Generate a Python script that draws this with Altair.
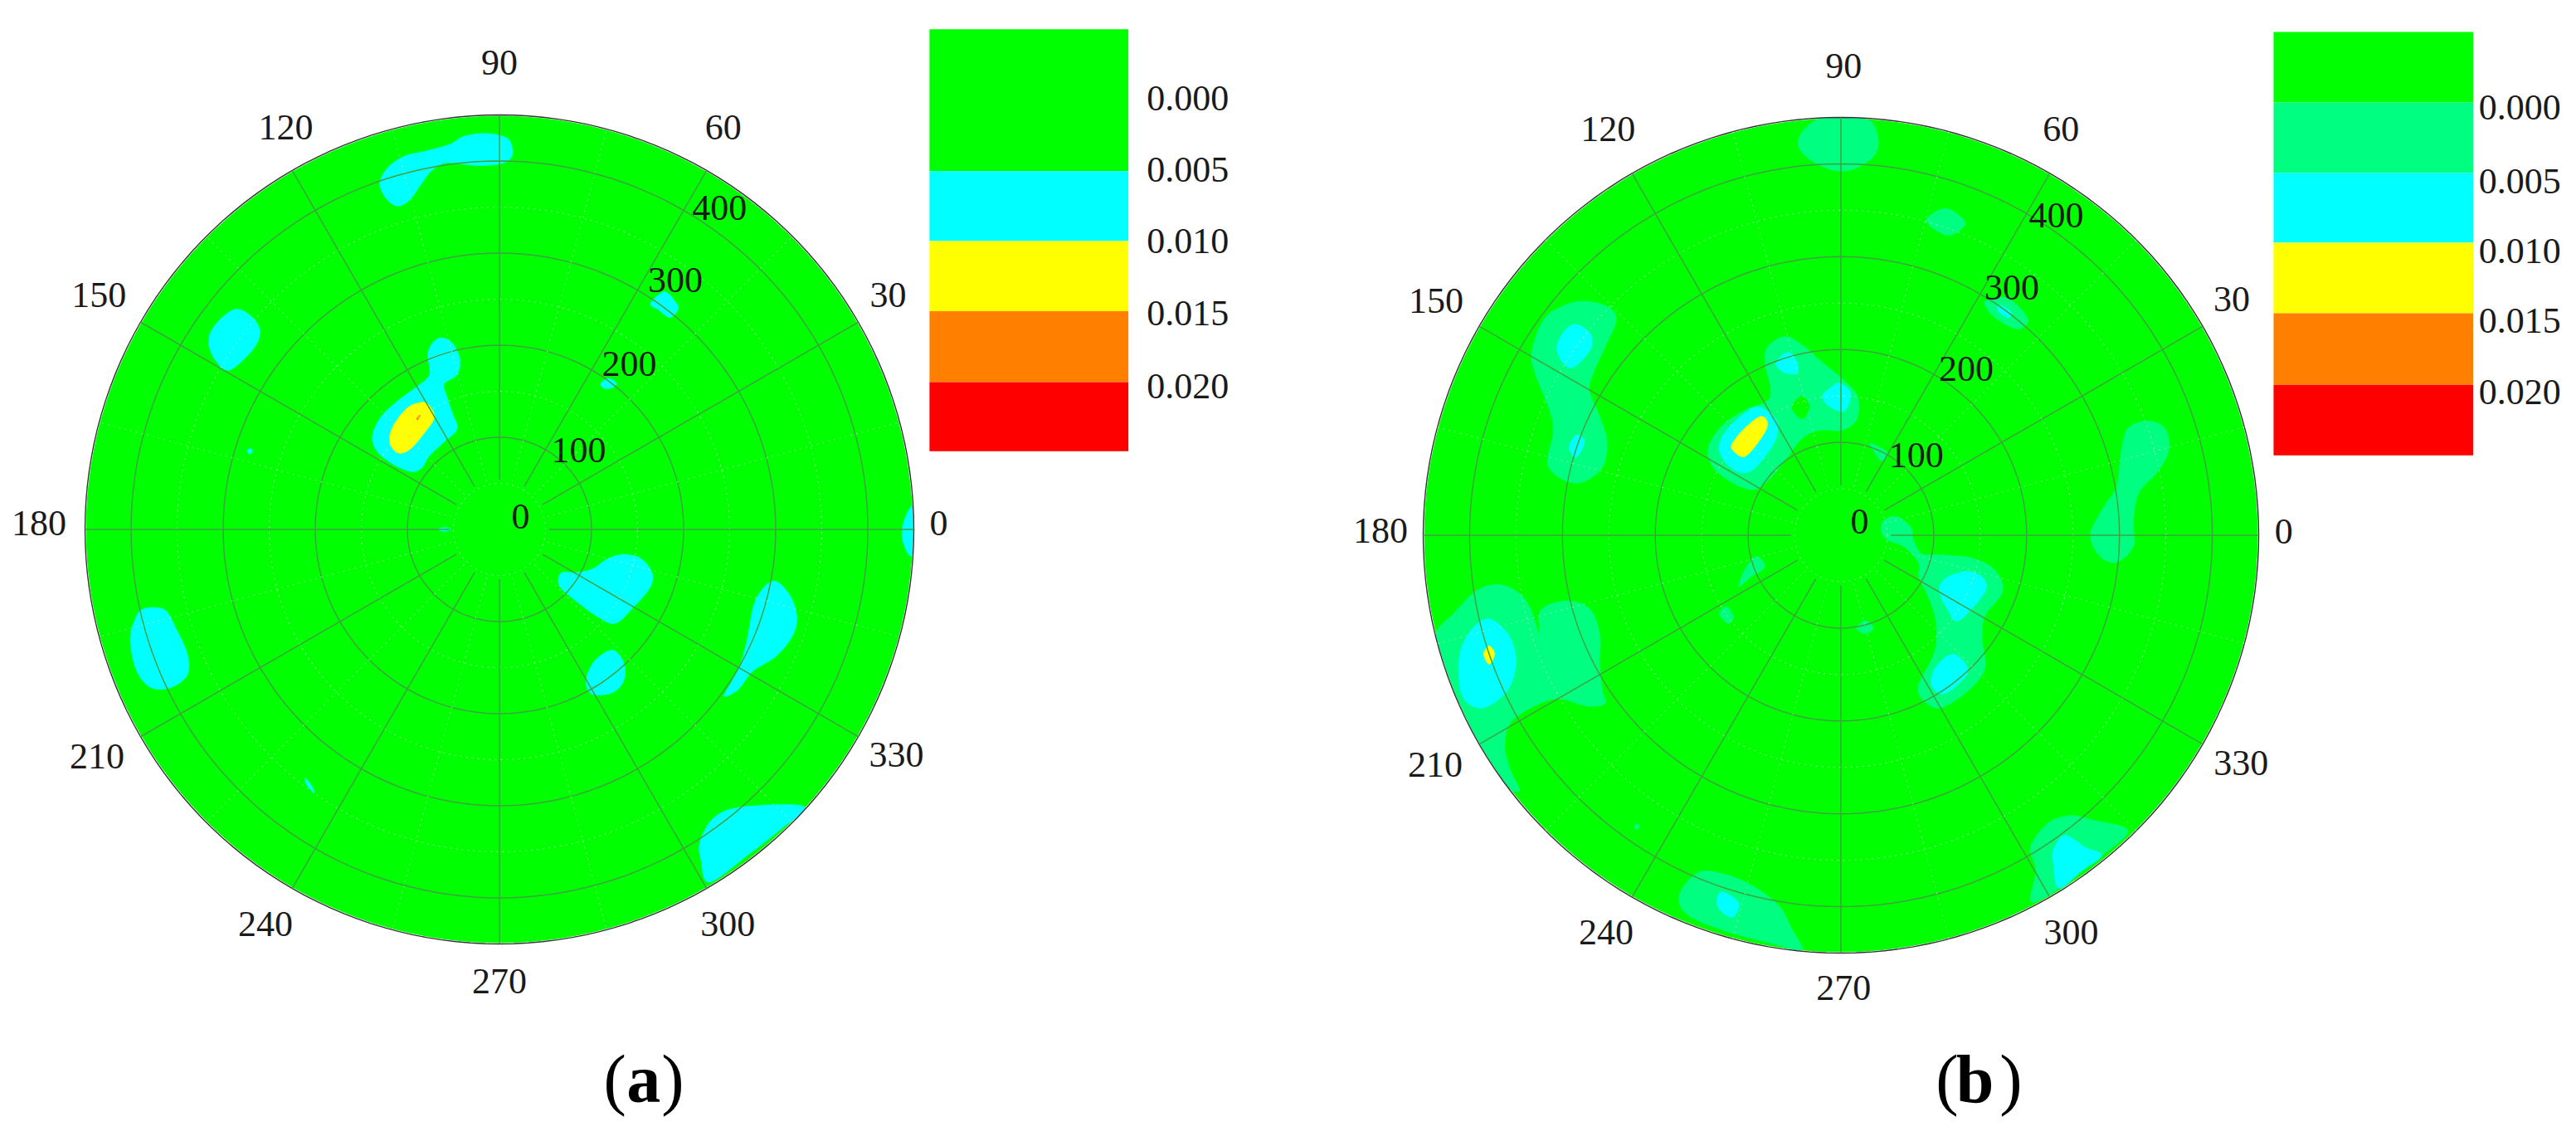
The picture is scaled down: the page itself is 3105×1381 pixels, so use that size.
import numpy as np
import pandas as pd
import altair as alt

# ---------- contour outlines, in radial-axis units (x, y from the pole) ----------
A_CYAN = [
    [(14,414),(8,425),(-14,430),(-38,427),(-54,418),(-79,411),(-104,405),(-122,392),(-130,375),(-122,358),(-110,351),(-97,358),(-85,375),(-73,390),(-57,398),(-26,395),(2,397),(13,404)],
    [(-287,239),(-268,230),(-260,214),(-268,195),(-293,173),(-308,183),(-316,204),(-308,223)],
    [(179,258),(191,247),(194,239),(185,230),(172,239),(164,245)],
    [(110,158),(118,164),(127,159),(123,154),(114,153)],
    [(-63,208),(-51,202),(-43,185),(-46,168),(-60,158),(-57,144),(-51,126),(-46,109),(-60,95),(-76,80),(-85,66),(-97,63),(-116,71),(-133,85),(-138,102),(-128,123),(-110,140),(-91,154),(-76,168),(-78,189),(-73,202)],
    [(-274,85),(-271,88),(-268,85),(-271,82)],
    [(-67,0),(-60,2),(-53,0),(-60,-2)],
    [(449,26),(441,14),(437,-4),(440,-19),(447,-29),(451,-10),(451,10)],
    [(135,-27),(154,-32),(166,-48),(163,-64),(145,-85),(126,-102),(107,-95),(82,-77),(65,-61),(67,-47),(82,-47),(101,-43),(117,-32)],
    [(297,-56),(315,-71),(323,-95),(318,-116),(300,-138),(275,-154),(259,-174),(244,-181),(253,-164),(262,-145),(269,-119),(278,-77)],
    [(123,-131),(135,-145),(135,-164),(123,-177),(101,-179),(94,-164),(104,-142)],
    [(-386,-86),(-364,-87),(-352,-106),(-339,-135),(-339,-158),(-358,-172),(-380,-171),(-395,-151),(-401,-119),(-395,-96)],
    [(-211,-270),(-204,-278),(-201,-286),(-209,-278)],
    [(266,-301),(331,-301),(306,-325),(269,-354),(228,-383),(219,-360),(218,-338),(234,-312)],
]
A_YELLOW = [
    [(-82,138),(-73,130),(-71,120),(-82,104),(-97,87),(-110,83),(-119,94),(-116,111),(-100,132)],
]
A_ORANGE = [
    [(-90,120),(-87,124),(-86,123),(-89,119)],
]

B_SPRING = [
    [(-23,448),(26,448),(39,433),(38,412),(20,397),(1,392),(-20,397),(-42,412),(-45,429)],
    [(112,352),(130,342),(133,333),(118,323),(103,328),(92,340)],
    [(158,253),(180,255),(201,234),(195,223),(183,224),(164,236),(155,248)],
    [(-276,252),(-251,246),(-242,232),(-254,203),(-266,176),(-271,156),(-260,128),(-252,101),(-257,73),(-279,57),(-300,60),(-316,77),(-310,111),(-314,135),(-331,179),(-332,203),(-319,234),(-297,248)],
    [(-60,214),(-42,205),(-20,186),(4,166),(18,149),(17,125),(1,113),(-23,113),(-42,104),(-63,77),(-88,51),(-110,53),(-137,72),(-143,94),(-128,118),(-103,135),(-79,145),(-76,159),(-82,186),(-79,203)],
    [(32,99),(50,89),(44,80),(35,91)],
    [(330,123),(349,115),(353,91),(340,67),(321,46),(315,15),(315,-12),(297,-29),(278,-22),(269,2),(284,32),(297,53),(302,91),(309,115)],
    [(60,20),(75,9),(78,-5),(87,-20),(106,-21),(143,-25),(167,-39),(174,-61),(155,-87),(152,-112),(155,-144),(134,-170),(106,-186),(87,-176),(84,-160),(100,-128),(103,-100),(97,-74),(84,-45),(84,-31),(69,-13),(50,-5),(43,6),(47,17)],
    [(-91,-23),(-82,-34),(-97,-45),(-110,-55),(-103,-36)],
    [(-123,-77),(-116,-88),(-122,-95),(-131,-84)],
    [(26,-92),(35,-100),(26,-106),(17,-100)],
    [(-417,-84),(-393,-60),(-368,-53),(-346,-63),(-334,-80),(-325,-106),(-325,-84),(-313,-74),(-291,-71),(-270,-80),(-260,-106),(-260,-138),(-257,-167),(-254,-181),(-273,-184),(-306,-176),(-334,-186),(-356,-202),(-362,-227),(-356,-253),(-346,-275),(-361,-270),(-380,-240),(-397,-210),(-415,-172),(-430,-130),(-436,-105)],
    [(-223,-314),(-220,-311),(-217,-314),(-220,-317)],
    [(-153,-363),(-122,-366),(-91,-380),(-66,-400),(-54,-422),(-42,-447),(-73,-440),(-122,-427),(-165,-409),(-174,-387)],
    [(247,-302),(272,-307),(309,-318),(281,-345),(247,-371),(220,-390),(204,-393),(210,-361),(204,-336),(223,-310)],
]
B_HOLES = [
    [(-42,150),(-34,138),(-42,125),(-53,138)],
]
B_CYAN = [
    [(170,248),(183,241),(180,234),(170,241)],
    [(-285,227),(-270,217),(-270,200),(-288,181),(-300,186),(-306,203),(-297,221)],
    [(-285,108),(-276,101),(-285,84),(-293,94)],
    [(-57,197),(-47,186),(-48,174),(-63,176),(-70,186)],
    [(-2,164),(10,154),(7,138),(0,133),(-14,140),(-20,150),(-11,159)],
    [(-88,138),(-70,125),(-70,104),(-88,77),(-103,67),(-119,73),(-131,91),(-125,111),(-103,132)],
    [(134,-39),(152,-45),(155,-61),(127,-92),(115,-80),(106,-61),(112,-47)],
    [(121,-128),(137,-144),(127,-160),(109,-171),(97,-160),(103,-141)],
    [(-380,-90),(-359,-106),(-350,-135),(-359,-167),(-386,-186),(-408,-173),(-411,-131),(-399,-103)],
    [(-128,-384),(-110,-396),(-116,-411),(-128,-406),(-134,-395)],
    [(241,-323),(263,-336),(281,-345),(260,-361),(235,-380),(229,-355),(229,-339)],
]
B_YELLOW = [
    [(-86,128),(-79,120),(-85,106),(-103,85),(-116,91),(-117,99),(-103,116)],
    [(-379,-119),(-373,-128),(-379,-139),(-385,-128)],
]

# ---------- axis labels (text, x, y) in the same units ----------
A_ANGLES = [("90",0,505),("120",-232,435),("60",243,435),("150",-435,253),("30",422,253),("180",-500,5),("0",477,5),
            ("210",-437,-248),("330",431,-246),("240",-254,-430),("300",248,-430),("270",0,-492)]
A_RADII = [("0",23,13),("100",86,85),("200",141,178),("300",191,269),("400",239,348)]
B_ANGLES = [("90",3,504),("120",-251,436),("60",237,436),("150",-436,251),("30",421,253),("180",-496,4),("0",477,3),
            ("210",-437,-248),("330",431,-247),("240",-253,-429),("300",248,-429),("270",3,-489)]
B_RADII = [("0",20,13),("100",81,85),("200",135,178),("300",184,265),("400",232,343)]

# ---------- legends ----------
A_LEG_COLORS = ["#00ff00","#00ffff","#ffff00","#ff8000","#ff0000"]
A_LEG_EDGES = [543,389,313,237,160,85]
A_LEG_X = (467,683)
A_LEG_TEXT = [("0.000",703,467),("0.005",703,389),("0.010",703,312),("0.015",703,233),("0.020",703,154)]
B_LEG_COLORS = ["#00ff00","#00ff80","#00ffff","#ffff00","#ff8000","#ff0000"]
B_LEG_EDGES = [542,466,390,315,239,162,86]
B_LEG_X = (466,681)
B_LEG_TEXT = [("0.000",687,459),("0.005",687,380),("0.010",687,305),("0.015",687,230),("0.020",687,153)]

A_CAPTION = [("(",113,-622,"normal"),("a",138,-622,"bold"),(")",176,-622,"normal")]
B_CAPTION = [("(",102,-610,"normal"),("b",124,-610,"bold"),(")",171,-610,"normal")]

RINGS = [100,200,300,400]
MINOR_RINGS = [50,150,250,350]
SPOKES = list(range(0,360,30))
MINOR_SPOKES = list(range(15,360,30))
R_IN, R_OUT = 54, 450
FONT = "Liberation Serif"
GRID = "#3fa33f"


def blobs(groups):
    rows = []
    for i, g in enumerate(groups):
        for j, (x, y) in enumerate(g):
            rows.append({"x": x, "y": y, "blob": i, "seq": j})
    return pd.DataFrame(rows)


def circle(r):
    t = np.radians(np.arange(0, 361, 2))
    return pd.DataFrame({"x": r*np.cos(t), "y": r*np.sin(t), "seq": np.arange(t.size)})


def panel(width, height, cx, cy, k, levels, ang, rad, leg_colors, leg_edges, leg_x, leg_text, caption):
    xs = alt.X("x:Q", axis=None, scale=alt.Scale(domain=[-cx/k, (width-cx)/k], nice=False, zero=False))
    ys = alt.Y("y:Q", axis=None, scale=alt.Scale(domain=[-(height-cy)/k, cy/k], nice=False, zero=False))
    layers = []

    def ring(r, **kw):
        return alt.Chart(circle(r)).mark_line(**kw).encode(x=xs, y=ys, order="seq:Q")

    layers.append(ring(448.5, fill="#00ff00", stroke="#00ff00", strokeWidth=1))
    for color, groups in levels:
        layers.append(alt.Chart(blobs(groups)).mark_line(
            fill=color, stroke=color, strokeWidth=0.5, interpolate="cardinal-closed"
        ).encode(x=xs, y=ys, detail="blob:N", order="seq:Q"))
    # mask what runs past the disc, then outline
    layers.append(ring(453.5, stroke="white", strokeWidth=9))
    layers.append(ring(450, stroke="#333333", strokeWidth=1.4))
    for r in MINOR_RINGS:
        layers.append(ring(r, stroke="#b8ffb8", strokeWidth=1.2, strokeDash=[2,5], opacity=0.7))
    for r in RINGS:
        layers.append(ring(r, stroke=GRID, strokeWidth=1.5))
    for list_, kw in ((MINOR_SPOKES, dict(stroke="#b8ffb8", strokeWidth=1.2, strokeDash=[2,5], opacity=0.6)),
                      (SPOKES, dict(stroke=GRID, strokeWidth=1.5))):
        rows = []
        for a in list_:
            for s, r in enumerate((R_IN, R_OUT)):
                rows.append({"x": r*np.cos(np.radians(a)), "y": r*np.sin(np.radians(a)), "a": a, "seq": s})
        layers.append(alt.Chart(pd.DataFrame(rows)).mark_line(**kw).encode(x=xs, y=ys, detail="a:N", order="seq:Q"))

    leg = pd.DataFrame({"color": leg_colors, "x": leg_x[0], "x2": leg_x[1],
                        "y": leg_edges[:-1], "y2": leg_edges[1:]})
    layers.append(alt.Chart(leg).mark_rect().encode(
        x=xs, x2="x2:Q", y=ys, y2="y2:Q", fill=alt.Fill("color:N", scale=None)))

    lab = pd.DataFrame(ang + rad, columns=["t", "x", "y"])
    layers.append(alt.Chart(lab).mark_text(font=FONT, fontSize=44, color="#1a1a1a", align="center", baseline="middle")
                  .encode(x=xs, y=ys, text="t:N"))
    lt = pd.DataFrame(leg_text, columns=["t", "x", "y"])
    layers.append(alt.Chart(lt).mark_text(font=FONT, fontSize=44, color="#1a1a1a", align="left", baseline="middle")
                  .encode(x=xs, y=ys, text="t:N"))
    cap = pd.DataFrame(caption, columns=["t", "x", "y", "w"])
    for w in ("normal", "bold"):
        layers.append(alt.Chart(cap[cap.w == w]).mark_text(font=FONT, fontSize=82, fontWeight=w, color="black",
                                                           align="left", baseline="alphabetic")
                      .encode(x=xs, y=ys, text="t:N"))
    return alt.layer(*layers).properties(width=width, height=height)


a = panel(1560, 1365, 594, 630, 1.11,
          [("#00ffff", A_CYAN), ("#ffff00", A_YELLOW), ("#ff8000", A_ORANGE)],
          A_ANGLES, A_RADII, A_LEG_COLORS, A_LEG_EDGES, A_LEG_X, A_LEG_TEXT, A_CAPTION)
b = panel(1520, 1365, 651, 637, 1.119,
          [("#00ff80", B_SPRING), ("#00ff00", B_HOLES), ("#00ffff", B_CYAN), ("#ffff00", B_YELLOW)],
          B_ANGLES, B_RADII, B_LEG_COLORS, B_LEG_EDGES, B_LEG_X, B_LEG_TEXT, B_CAPTION)

chart = alt.hconcat(a, b, spacing=0, bounds="flush").properties(padding=0).configure_view(stroke=None)
chart.save("out.html", embed_options={"renderer": "svg", "actions": False})
